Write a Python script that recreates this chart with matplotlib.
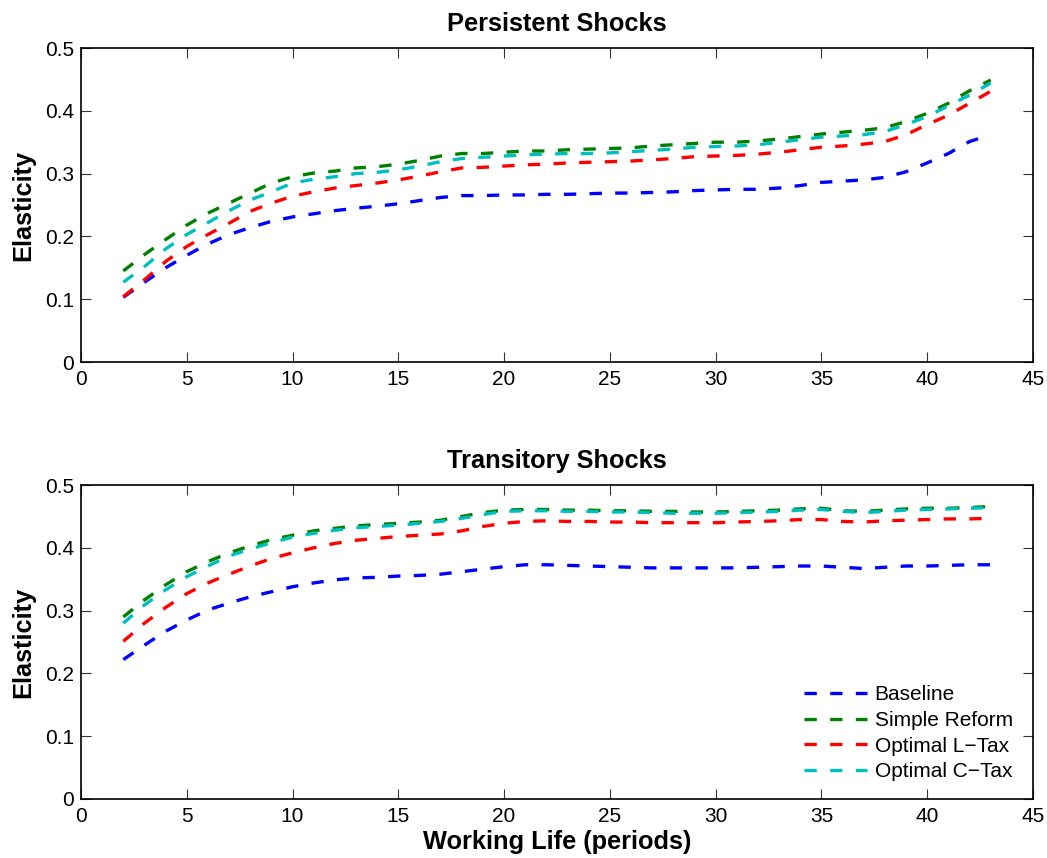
import matplotlib
matplotlib.use("Agg")
import matplotlib.pyplot as plt
import numpy as np

plt.rcParams['font.family'] = ['Liberation Sans', 'DejaVu Sans']

periods = list(range(2, 44))

# Persistent shocks
pers_baseline = [0.103, 0.127, 0.150, 0.170, 0.188, 0.203, 0.214, 0.224, 0.231, 0.236,
                 0.241, 0.245, 0.248, 0.252, 0.257, 0.262, 0.265, 0.265, 0.266, 0.266,
                 0.267, 0.267, 0.268, 0.269, 0.269, 0.270, 0.271, 0.273, 0.274, 0.275,
                 0.275, 0.277, 0.281, 0.286, 0.288, 0.290, 0.294, 0.303, 0.317, 0.332,
                 0.351, 0.362]
pers_simple = [0.145, 0.171, 0.195, 0.218, 0.237, 0.253, 0.269, 0.285, 0.295, 0.301,
               0.304, 0.309, 0.311, 0.315, 0.321, 0.328, 0.332, 0.332, 0.334, 0.336,
               0.336, 0.338, 0.339, 0.340, 0.341, 0.344, 0.346, 0.348, 0.350, 0.350,
               0.352, 0.355, 0.359, 0.363, 0.366, 0.369, 0.373, 0.383, 0.396, 0.412,
               0.432, 0.449]
pers_ltax = [0.104, 0.131, 0.160, 0.184, 0.203, 0.221, 0.240, 0.253, 0.264, 0.271,
             0.277, 0.281, 0.285, 0.290, 0.296, 0.303, 0.309, 0.310, 0.312, 0.314,
             0.315, 0.317, 0.318, 0.319, 0.320, 0.322, 0.324, 0.327, 0.328, 0.329,
             0.331, 0.334, 0.338, 0.342, 0.344, 0.347, 0.351, 0.362, 0.378, 0.393,
             0.412, 0.431]
pers_ctax = [0.127, 0.152, 0.180, 0.203, 0.222, 0.241, 0.258, 0.271, 0.285, 0.291,
             0.295, 0.300, 0.302, 0.306, 0.312, 0.319, 0.324, 0.326, 0.328, 0.330,
             0.331, 0.332, 0.332, 0.333, 0.335, 0.337, 0.339, 0.342, 0.343, 0.344,
             0.346, 0.350, 0.354, 0.358, 0.360, 0.362, 0.367, 0.378, 0.391, 0.408,
             0.425, 0.444]

# Transitory shocks
tran_baseline = [0.222, 0.245, 0.267, 0.285, 0.301, 0.312, 0.322, 0.330, 0.338, 0.344,
                 0.349, 0.352, 0.353, 0.355, 0.356, 0.358, 0.362, 0.366, 0.370, 0.373,
                 0.373, 0.372, 0.371, 0.370, 0.369, 0.368, 0.368, 0.368, 0.368, 0.368,
                 0.369, 0.370, 0.371, 0.371, 0.369, 0.367, 0.369, 0.371, 0.371, 0.372,
                 0.373, 0.373]
tran_simple = [0.290, 0.317, 0.341, 0.362, 0.378, 0.392, 0.403, 0.413, 0.420, 0.427,
               0.431, 0.435, 0.437, 0.439, 0.441, 0.444, 0.450, 0.456, 0.460, 0.461,
               0.461, 0.460, 0.460, 0.459, 0.459, 0.458, 0.458, 0.457, 0.457, 0.458,
               0.459, 0.460, 0.462, 0.463, 0.459, 0.458, 0.460, 0.462, 0.463, 0.463,
               0.464, 0.466]
tran_ltax = [0.251, 0.280, 0.305, 0.327, 0.344, 0.358, 0.371, 0.383, 0.392, 0.400,
             0.407, 0.412, 0.415, 0.418, 0.420, 0.422, 0.427, 0.434, 0.439, 0.442,
             0.443, 0.442, 0.442, 0.441, 0.441, 0.440, 0.440, 0.440, 0.440, 0.441,
             0.442, 0.443, 0.445, 0.445, 0.442, 0.441, 0.443, 0.444, 0.445, 0.446,
             0.446, 0.447]
tran_ctax = [0.280, 0.309, 0.333, 0.354, 0.371, 0.387, 0.398, 0.408, 0.417, 0.423,
             0.428, 0.432, 0.434, 0.436, 0.439, 0.442, 0.447, 0.453, 0.458, 0.459,
             0.459, 0.458, 0.458, 0.457, 0.457, 0.456, 0.455, 0.455, 0.455, 0.456,
             0.457, 0.458, 0.460, 0.461, 0.458, 0.456, 0.458, 0.460, 0.461, 0.462,
             0.463, 0.464]

labels = ['Baseline', 'Simple Reform', 'Optimal L\u2212Tax', 'Optimal C\u2212Tax']
colors = ['#0000ff', '#008000', '#ff0000', '#00bfbf']
titles = ['Persistent Shocks', 'Transitory Shocks']
xticks = [0, 5, 10, 15, 20, 25, 30, 35, 40, 45]
yticks = [0, 0.1, 0.2, 0.3, 0.4, 0.5]
ytick_labels = ['0', '0.1', '0.2', '0.3', '0.4', '0.5']

W, H = 1047, 858
fig = plt.figure(figsize=(W / 100, H / 100), dpi=100)

ax_pos = [(81, 48, 1033, 362), (81, 485, 1033, 799)]
data = [[pers_baseline, pers_simple, pers_ltax, pers_ctax],
        [tran_baseline, tran_simple, tran_ltax, tran_ctax]]

axes = []
for i, (x0, y0, x1, y1) in enumerate(ax_pos):
    ax = fig.add_axes([x0 / W, 1 - y1 / H, (x1 - x0) / W, (y1 - y0) / H])
    for series, c, lab in zip(data[i], colors, labels):
        ax.plot(periods, series, color=c, lw=2.4, linestyle=(0, (3.7, 4.0)),
                dash_capstyle='butt', label=lab)
    ax.set_xlim(0, 45)
    ax.set_ylim(0, 0.5)
    ax.set_xticks(xticks)
    ax.set_yticks(yticks)
    ax.set_yticklabels(ytick_labels)
    ax.tick_params(direction='in', length=7, width=0.8, top=True, right=True,
                   labelsize=15, color='#333333')
    ax.tick_params(axis='x', pad=6)
    ax.tick_params(axis='y', pad=5)
    for s in ax.spines.values():
        s.set_linewidth(1.2)
    ax.set_title(titles[i], fontsize=18.3, fontweight='bold', pad=12)
    ax.set_ylabel('Elasticity', fontsize=18.3, fontweight='bold', labelpad=7)
    axes.append(ax)

axes[1].set_xlabel('Working Life (periods)', fontsize=18.3, fontweight='bold', labelpad=3)
axes[1].legend(loc='upper left', frameon=False, fontsize=15, handlelength=3.0,
               handletextpad=0.38, labelspacing=0.32, borderpad=0.4, borderaxespad=0,
               bbox_to_anchor=(796 / W, 1 - 677 / H), bbox_transform=fig.transFigure)

fig.savefig('out.png', dpi=100)
